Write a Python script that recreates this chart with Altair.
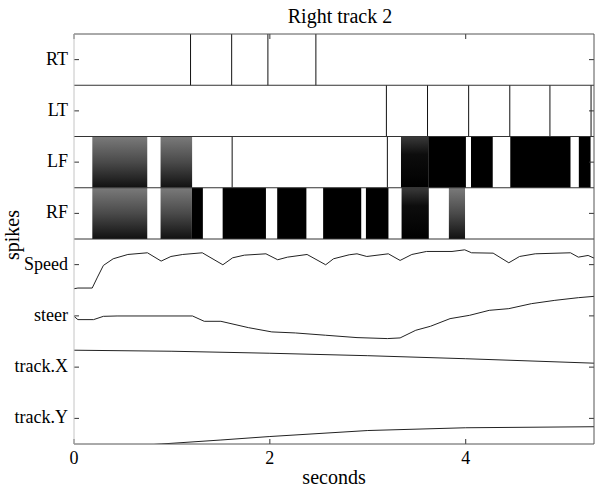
import altair as alt
import pandas as pd

# ---------------- data ----------------
ROWS = ["RT", "LT", "LF", "RF", "Speed", "steer", "track.X", "track.Y"]
X_TICKS = [0, 2, 4]
X_TICK_LABELS = ["0", "2", "4"]
X_MAX = 5.31
TITLE = "Right track 2"
X_TITLE = "seconds"
Y_TITLE = "spikes"

# single spikes (seconds)
RT_SPIKES = [1.19, 1.61, 1.98, 2.47]
LT_SPIKES = [3.19, 3.61, 4.03, 4.45, 4.86, 5.28]
LF_SPIKES = [1.615, 3.20]

# dense spike bursts (start, end in seconds) and how dense they look
LF_BURST_START = [0.187, 0.884, 3.339, 3.617, 4.054, 4.455, 5.155]
LF_BURST_END = [0.748, 1.206, 3.617, 4.002, 4.276, 5.070, 5.275]
LF_BURST_SHADE = ["light", "light", "dark", "solid", "solid", "solid", "solid"]

RF_BURST_START = [0.187, 0.884, 1.204, 1.518, 2.075, 2.544, 2.981, 3.345, 3.828]
RF_BURST_END = [0.748, 1.204, 1.316, 1.960, 2.373, 2.933, 3.211, 3.623, 3.993]
RF_BURST_SHADE = ["light", "light", "solid", "solid", "solid", "solid", "solid", "dark", "light"]

# continuous traces, in row units (each row is one unit high, bottom row = 0..1)
SPEED_T = [0.0, 0.04, 0.186, 0.24, 0.30, 0.40, 0.55, 0.75, 0.89, 0.99, 1.11, 1.31,
           1.52, 1.62, 1.74, 1.96, 2.08, 2.18, 2.38, 2.57, 2.65, 2.81, 2.89, 2.99,
           3.21, 3.33, 3.45, 3.60, 3.86, 3.99, 4.06, 4.28, 4.44, 4.55, 4.71, 5.07,
           5.15, 5.25, 5.31]
SPEED_V = [3.030, 3.043, 3.043, 3.257, 3.484, 3.614, 3.698, 3.731, 3.569, 3.659, 3.698, 3.731,
           3.497, 3.633, 3.685, 3.711, 3.595, 3.646, 3.698, 3.497, 3.614, 3.692, 3.711, 3.659,
           3.711, 3.582, 3.698, 3.757, 3.757, 3.789, 3.731, 3.724, 3.536, 3.659, 3.711, 3.731,
           3.646, 3.679, 3.627]

STEER_T = [0.0, 0.04, 0.20, 0.30, 0.44, 1.21, 1.33, 1.50, 1.78, 2.02, 2.26, 2.57, 2.89,
           3.20, 3.33, 3.49, 3.64, 3.84, 4.04, 4.24, 4.44, 4.67, 4.91, 5.15, 5.31]
STEER_V = [2.491, 2.427, 2.427, 2.491, 2.498, 2.498, 2.394, 2.394, 2.271, 2.187, 2.167, 2.122, 2.076,
           2.057, 2.070, 2.219, 2.297, 2.446, 2.511, 2.608, 2.641, 2.738, 2.803, 2.855, 2.881]

TRACKX_T = [0.0, 1.0, 2.0, 3.0, 4.0, 5.31]
TRACKX_V = [1.830, 1.810, 1.771, 1.723, 1.664, 1.577]

TRACKY_T = [0.0, 0.89, 1.5, 2.0, 3.0, 4.0, 5.31]
TRACKY_V = [-0.117, 0.0, 0.078, 0.146, 0.263, 0.317, 0.337]

# ---------------- tables ----------------
N = len(ROWS)


def row_bottom(name):
    return N - 1 - ROWS.index(name)


spk = []
for name, times in [("RT", RT_SPIKES), ("LT", LT_SPIKES), ("LF", LF_SPIKES)]:
    for t in times:
        spk.append({"t": t, "y0": row_bottom(name), "y1": row_bottom(name) + 1})
spikes_df = pd.DataFrame(spk)

bst = []
for name, s, e, sh in [("LF", LF_BURST_START, LF_BURST_END, LF_BURST_SHADE),
                       ("RF", RF_BURST_START, RF_BURST_END, RF_BURST_SHADE)]:
    for a, b, c in zip(s, e, sh):
        bst.append({"t": a, "t2": b, "shade": c, "y0": row_bottom(name), "y1": row_bottom(name) + 1})
bursts_df = pd.DataFrame(bst)

ln = []
for name, ts, vs in [("Speed", SPEED_T, SPEED_V), ("steer", STEER_T, STEER_V),
                     ("track.X", TRACKX_T, TRACKX_V), ("track.Y", TRACKY_T, TRACKY_V)]:
    for t, v in zip(ts, vs):
        ln.append({"t": t, "v": v, "trace": name})
lines_df = pd.DataFrame(ln)

sep_df = pd.DataFrame({"y": [row_bottom(n) for n in ["RT", "LT", "LF", "RF"]]})
ytick_df = pd.DataFrame({"y": [row_bottom(n) + 0.5 for n in ROWS], "label": ROWS})
xtick_df = pd.DataFrame({"t": X_TICKS, "label": X_TICK_LABELS})
text_df = pd.DataFrame({"title": [TITLE], "xt": [X_TITLE], "yt": [Y_TITLE]})

W, H = 520, 410
FONT = "Liberation Serif"

xs = alt.Scale(domain=[0, X_MAX], nice=False, zero=False)
ys = alt.Scale(domain=[0, N], nice=False, zero=False)
XN = alt.X("t:Q", scale=xs, axis=None)


def grad(stops):
    return alt.Gradient(gradient="linear", x1=0, x2=0, y1=0, y2=1,
                        stops=[alt.GradientStop(color=c, offset=o) for o, c in stops])


SHADES = {
    "light": grad([(0, "#7a7a7a"), (0.5, "#4a4a4a"), (1, "#111111")]),
    "dark": grad([(0, "#3a3a3a"), (0.35, "#0d0d0d"), (1, "#000000")]),
    "solid": grad([(0, "#000000"), (1, "#000000")]),
}

base_b = alt.Chart(bursts_df)
burst_layers = []
for k, g in SHADES.items():
    burst_layers.append(
        base_b.transform_filter(alt.datum.shade == k).mark_rect(color=g).encode(
            x=XN, x2="t2:Q",
            y=alt.Y("y0:Q", scale=ys, axis=None), y2="y1:Q",
        )
    )

spikes = alt.Chart(spikes_df).mark_rule(color="#111", strokeWidth=1).encode(
    x=XN, y=alt.Y("y0:Q", scale=ys, axis=None), y2="y1:Q",
)

seps = alt.Chart(sep_df).mark_rule(color="#333", strokeWidth=1).encode(
    y=alt.Y("y:Q", scale=ys, axis=None)
)

lines = alt.Chart(lines_df).mark_line(color="#222", strokeWidth=1, clip=True).encode(
    x=XN, y=alt.Y("v:Q", scale=ys, axis=None), detail="trace:N",
)

YF = alt.Y("y:Q", scale=ys, axis=None)
yt_left = alt.Chart(ytick_df).mark_rule(color="#333").encode(y=YF, x=alt.value(0), x2=alt.value(5))
yt_right = alt.Chart(ytick_df).mark_rule(color="#333").encode(y=YF, x=alt.value(W - 5), x2=alt.value(W))
xt_bottom = alt.Chart(xtick_df).mark_rule(color="#333").encode(x=XN, y=alt.value(H - 5), y2=alt.value(H))
xt_top = alt.Chart(xtick_df).mark_rule(color="#333").encode(x=XN, y=alt.value(0), y2=alt.value(5))

ylabels = alt.Chart(ytick_df).mark_text(
    font=FONT, fontSize=18, color="black", align="right", baseline="middle", dx=-6
).encode(y=YF, x=alt.value(0), text="label:N")
xlabels = alt.Chart(xtick_df).mark_text(
    font=FONT, fontSize=18, color="black", align="center", baseline="alphabetic"
).encode(x=XN, y=alt.value(H + 20), text="label:N")

tsrc = alt.Chart(text_df)
title_txt = tsrc.mark_text(font=FONT, fontSize=20, color="black", align="center",
                           baseline="alphabetic").encode(
    x=alt.value(W / 2 + 6), y=alt.value(-11), text="title:N")
xtitle_txt = tsrc.mark_text(font=FONT, fontSize=20, color="black", align="center",
                            baseline="alphabetic").encode(
    x=alt.value(W / 2), y=alt.value(H + 40), text="xt:N")
ytitle_txt = tsrc.mark_text(font=FONT, fontSize=20, color="black", align="center",
                            baseline="alphabetic", angle=270).encode(
    x=alt.value(-55), y=alt.value(201), text="yt:N")

frame = [
    tsrc.mark_rule(color="#555").encode(x=alt.value(0), x2=alt.value(W), y=alt.value(0)),
    tsrc.mark_rule(color="#555").encode(x=alt.value(0), x2=alt.value(W), y=alt.value(H)),
    tsrc.mark_rule(color="#555").encode(x=alt.value(W), y=alt.value(0), y2=alt.value(H)),
    tsrc.mark_rule(color="#c4c4c4").encode(x=alt.value(0), y=alt.value(0), y2=alt.value(H)),
]

chart = alt.layer(
    *burst_layers, spikes, seps, lines, yt_left, yt_right, xt_bottom, xt_top, *frame,
    ylabels, xlabels, title_txt, xtitle_txt, ytitle_txt
).properties(
    width=W,
    height=H,
    background="white",
    padding={"left": 74, "top": 34, "right": 14, "bottom": 45},
    autosize=alt.AutoSizeParams(type="none"),
).configure_view(
    stroke=None
)

chart.save("out.html", embed_options={"renderer": "svg", "actions": False})
